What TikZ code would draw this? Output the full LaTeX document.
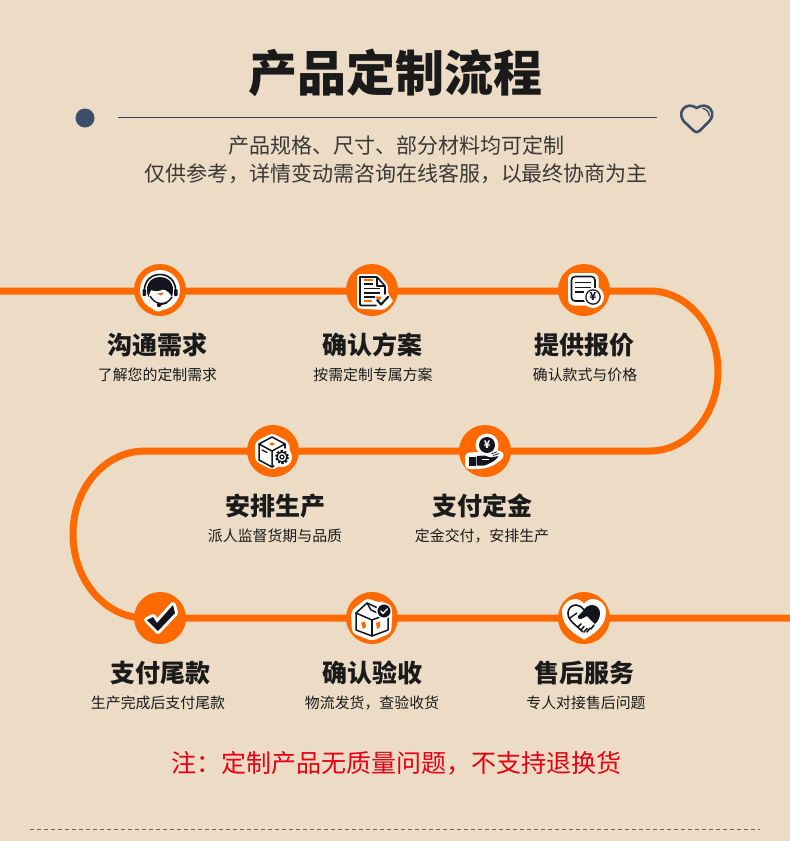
\documentclass[tikz,border=0pt]{standalone}
\usepackage{fontspec}
\setmainfont{Noto Sans CJK SC}
\definecolor{bgc}{HTML}{ECDCC6}
\definecolor{orng}{HTML}{FF6A00}
\definecolor{slate}{HTML}{3C4F6B}
\definecolor{ink}{HTML}{1A1A1A}
\definecolor{icon}{HTML}{14141E}
\definecolor{redn}{HTML}{E60012}
\newcommand{\fpx}[1]{\fontsize{#1pt}{#1pt}\selectfont}
\newcommand{\fwc}{^^^^ff0c}
\newcommand{\fwk}{^^^^ff1a}
\tikzset{
  x=1pt,y=-1pt,
  badge/.style={circle,fill=orng,minimum size=52pt,inner sep=0pt},
  head/.style={inner sep=0pt,text=ink,font=\fpx{25}\bfseries},
  subh/.style={inner sep=0pt,text=ink,font=\fpx{14.9}},
  intro/.style={inner sep=0pt,text=ink!85!bgc,font=\fpx{21}},
  road/.style={draw=orng,line width=7pt},
  ico/.style={draw=icon,line width=1.5pt,line join=round,line cap=round},
}
\begin{document}
\begin{tikzpicture}
\useasboundingbox (0,0) rectangle (790,841);
\fill[bgc] (0,0) rectangle (790,841);

% title
\node[inner sep=0pt,text=ink,font=\fpx{49}\bfseries] (title) at (395,73) {产品定制流程};
\node[circle,fill=slate,minimum size=19pt,inner sep=0pt] (dot) at (85,118) {};
\coordinate (ruleL) at (118,117.5);
\coordinate (ruleR) at (657,117.5);
\draw[draw=slate!85!black,line width=1pt] (ruleL) -- (ruleR);
% heart
\draw[slate,line width=2.6pt,line cap=round,line join=round] (696.7,108)
  .. controls (692,104.5) and (686,105) .. (683,109)
  .. controls (680,113) and (681,118) .. (684,121.5)
  -- (694,131) .. controls (696,132.6) and (697.4,132.6) .. (699.4,131)
  -- (709,121.5) .. controls (712.5,118) and (713.5,113) .. (710.5,109)
  .. controls (707.5,105) and (701.5,104.5) .. (696.7,108);
\draw[slate,line width=1.3pt,line cap=round] (703,108.5) .. controls (707,109.5) and (709,112) .. (709.3,116);

\node[intro] (sub1) at (396,146) {产品规格、尺寸、部分材料均可定制};
\node[intro] (sub2) at (396,174) {仅供参考\fwc 详情变动需咨询在线客服\fwc 以最终协商为主};

% positions
\coordinate (s1) at (160,290);
\coordinate (s2) at (372,290);
\coordinate (s3) at (584,290);
\coordinate (s4) at (485,451);
\coordinate (s5) at (273,451);
\coordinate (s6) at (160,618);
\coordinate (s7) at (372,618);
\coordinate (s8) at (584,618);
\coordinate (roadA) at (0,291);
\coordinate (roadB) at (790,618);

% road
\draw[road] (roadA) -- (650,291)
  .. controls (687.5,291) and (718,327) .. (718,371)
  .. controls (718,415) and (687.5,451) .. (650,451)
  -- (145,451)
  .. controls (105,451) and (73,488) .. (73,534)
  .. controls (73,580) and (105,618) .. (145,618)
  -- (roadB);

\foreach \n/\p in {n1/s1,n2/s2,n3/s3,n4/s4,n5/s5,n6/s6,n7/s7,n8/s8}
  \node[badge] (\n) at (\p) {};

% 1 headset
\begin{scope}[shift={(n1.center)}]
  \fill[white] (0,0) circle (20);
  \fill[white] (-2,15) circle (6.5);
  \fill[icon] (-13,0) .. controls (-13,-9) and (-7,-13) .. (0,-13)
     .. controls (7,-13) and (13,-9) .. (13,0)
     .. controls (13,3) and (12.5,5) .. (12,7)
     .. controls (10,3) and (7,0) .. (3,-0.5)
     .. controls (-1,1.5) and (-6,1.5) .. (-9,0)
     .. controls (-10,2) and (-11,5) .. (-11.5,7)
     .. controls (-12.5,5) and (-13,3) .. (-13,0) -- cycle;
  \draw[icon,line width=1.6pt] (-15.5,0) .. controls (-15.5,-10) and (-8,-15.5) .. (0,-15.5)
     .. controls (8,-15.5) and (15.5,-10) .. (15.5,0);
  \fill[icon,rounded corners=1pt] (-17.5,-1) rectangle (-14,6);
  \fill[icon,rounded corners=1pt] (14,-1) rectangle (17.5,6);
  \fill[orng] (-3,3.5) -- (4,2.5) -- (1,5.5) -- cycle;
  \draw[icon,line width=1.4pt] (-10,6) .. controls (-7,11) and (-3,13.5) .. (1,13.5)
     (1,13.5) .. controls (5,13.5) and (9,12) .. (12,7);
  \draw[icon,line width=1.3pt] (-1,15) -- (7,13);
  \fill[icon] (-1,15) circle (2.2);
\end{scope}

% 2 document
\begin{scope}[shift={(n2.center)}]
  \fill[white,rounded corners=3pt] (-15,-16) -- (6,-16) -- (16,-5) -- (16,4) -- (20,9) -- (21,12) -- (12,20) -- (-15,18.5) -- cycle;
  \draw[ico,line width=1.6pt,rounded corners=1pt] (-12,-13) -- (5,-13) -- (13,-4) -- (13,4);
  \draw[ico,line width=1.6pt,rounded corners=1pt] (4,15.5) -- (-12,15.5) -- (-12,-13);
  \draw[ico,line width=1.4pt] (5,-13) -- (5,-4) -- (13,-4);
  \fill[orng] (-8.5,-11) rectangle (1,-9.2);
  \fill[icon] (-8.5,-6.8) rectangle (1,-5);
  \fill[icon] (-8.5,-2.5) rectangle (8,-0.7);
  \fill[icon] (-8.5,1.8) rectangle (8,3.6);
  \fill[icon] (-8.5,6.1) rectangle (3,7.9);
  \fill[orng] (-8.5,10.4) rectangle (0,12.2);
  \fill[orng] (3,6.5) -- (10,6.5) -- (7,11) -- cycle;
  \draw[ico,line width=2pt] (5,10) -- (9,14.5) -- (16.5,6.5);
\end{scope}

% 3 bill
\begin{scope}[shift={(n3.center)}]
  \fill[white,rounded corners=6pt] (-16,-17) rectangle (14.5,15.5);
  \fill[white] (9,7) circle (11);
  \draw[ico,line width=1.6pt,rounded corners=3.5pt] (-12.5,-13.5) rectangle (11,11);
  \fill[icon] (-9,-8.2) rectangle (6.5,-6.6);
  \fill[icon] (-9,-3.4) rectangle (6.5,-1.8);
  \fill[icon] (-9,1.4) rectangle (0,3);
  \fill[white] (9,7) circle (9.5);
  \fill[icon] (9,7) circle (7.8);
  \fill[white] (9,7) circle (6.4);
  \node[inner sep=0pt,text=icon,font=\fpx{11}\bfseries] (yen3) at (9,7) {¥};
\end{scope}

% 4 coin and hand
\begin{scope}[shift={(n4.center)}]
  \fill[white] (2,-6) circle (11.5);
  \fill[white,rounded corners=4pt] (-20,2) -- (16,-1) -- (20,5) -- (10,14) -- (-2,18) -- (-20,18) -- cycle;
  \fill[icon] (2,-6) circle (8);
  \node[inner sep=0pt,text=white,font=\fpx{10.5}\bfseries] (yen4) at (2,-6) {¥};
  \fill[icon] (-16,5.5) -- (-9.5,5.5) -- (-9.5,14.5) -- (-16,14.5) -- cycle;
  \fill[icon,rounded corners=1pt] (-8.5,5) -- (0,4.5) -- (5,6.5) -- (14,5) -- (9,10) -- (0,14.5) -- (-8.5,14.5) -- cycle;
  \draw[white,line width=0.9pt] (-3,8) -- (4,8);
  \draw[icon,line width=0.7pt] (6,3) -- (12,1) (8,4.6) -- (14,2.6);
\end{scope}

% 5 box and gear
\begin{scope}[shift={(n5.center)}]
  \fill[white,rounded corners=4pt] (-1,-18) -- (16,-9) -- (17,0) -- (16,12) -- (4,16) -- (-1,19) -- (-18,10) -- (-18,-9) -- cycle;
  \fill[white] (9,6) circle (10);
  \draw[ico] (-1,-14) -- (12,-7) -- (-1,0) -- (-14,-7) -- cycle;
  \draw[ico] (-14,-7) -- (-14,9) -- (-1,16) -- (-1,0);
  \draw[ico] (12,-7) -- (12,-3);
  \draw[ico] (-1,16) -- (1,15);
  \draw[ico,line width=1.2pt] (-11,-1) -- (-6,1.5);
  \fill[orng] (-4,-7) -- (-1,-8.7) -- (2,-7) -- (-1,-5.3) -- cycle;
  \draw[icon,fill=white,line width=3pt,dash pattern=on 2pt off 1.5pt] (9,6) circle (5.6);
  \draw[icon,fill=white,line width=1.3pt] (9,6) circle (5);
  \draw[icon,line width=1.2pt] (9,6) circle (2);
\end{scope}

% 6 check
\begin{scope}[shift={(n6.center)}]
  \draw[draw=white,fill=icon,line width=6pt,line join=round] (-13,2) -- (-7,-1) -- (-3,5) -- (13,-13) -- (15,-5) -- (-2,13) -- cycle;
  \fill[icon] (-13,2) -- (-7,-1) -- (-3,5) -- (13,-13) -- (15,-5) -- (-2,13) -- cycle;
\end{scope}

% 7 open box
\begin{scope}[shift={(n7.center)}]
  \fill[white,rounded corners=4pt] (-21,-7) -- (-5,-20) -- (8,-15) -- (12,-17) -- (20,-8) -- (20,3) -- (19,15) -- (0,23) -- (-20,15) -- cycle;
  \draw[ico] (-16,-5) -- (0,2) -- (16,-4);
  \draw[ico] (-16,-5) -- (-16,12) -- (0,18) -- (16,12) -- (16,-2);
  \draw[ico] (0,2) -- (0,18);
  \draw[ico] (-16,-5) -- (-5,-15) -- (8,-9);
  \draw[ico] (-5,-15) -- (-1,-8) -- (8,-4);
  \fill[orng] (-11,5) -- (-7,3.5) -- (-6,9) -- (-9,11) -- cycle;
  \fill[orng] (4,5) -- (8,3.5) -- (8,9) -- (5,11) -- cycle;
  \fill[white] (12,-7) circle (8);
  \fill[icon] (12,-7) circle (6.5);
  \draw[white,line width=1.3pt,line cap=round,line join=round] (8.7,-7) -- (11,-4.6) -- (15.4,-9.2);
\end{scope}

% 8 heart and handshake
\begin{scope}[shift={(n8.center)}]
  \fill[white] (0,21.5)
     .. controls (-8,17) and (-22,9) .. (-22,-6)
     .. controls (-22,-14) and (-15,-19) .. (-9,-19)
     .. controls (-5,-19) and (-2,-17) .. (0,-14)
     .. controls (2,-17) and (5,-19) .. (9,-19)
     .. controls (15,-19) and (22,-14) .. (22,-6)
     .. controls (22,9) and (8,17) .. (0,21.5) -- cycle;
  \fill[icon] (-1,-7) .. controls (1,-11) and (5,-13) .. (8,-13)
     .. controls (13,-13) and (16,-9) .. (16,-5)
     .. controls (16,0) and (14,3) .. (11,6)
     -- (3,-2) -- (-3,1) .. controls (-5,2) and (-7,0) .. (-6,-2) -- cycle;
  \draw[icon,line width=1.6pt] (0,-8) .. controls (-2,-11) and (-5,-13) .. (-8,-13)
     .. controls (-13,-13) and (-16,-9) .. (-16,-5)
     .. controls (-16,-1) and (-14,2) .. (-12,4);
  \draw[icon,line width=1.6pt,line join=round] (-12,4) -- (-1,14);
  \draw[icon,line width=1.5pt,line cap=round] (-6,9) -- (-3,6) (-3,12) -- (0,8.5) (0,14) -- (3,10.5) (3,14) -- (6,10) (7,11) -- (10,7);
  \draw[icon,line width=1.4pt] (-14,0) -- (-7,-5);
\end{scope}

% labels
\node[head] (h1) at (157,345) {沟通需求};
\node[subh] (t1) at (157.5,375) {了解您的定制需求};
\node[head] (h2) at (372,345) {确认方案};
\node[subh] (t2) at (373,375) {按需定制专属方案};
\node[head] (h3) at (584,345) {提供报价};
\node[subh] (t3) at (585,375) {确认款式与价格};
\node[head] (h4) at (482,506) {支付定金};
\node[subh] (t4) at (482,536) {定金交付\fwc 安排生产};
\node[head] (h5) at (275,506) {安排生产};
\node[subh] (t5) at (275,536) {派人监督货期与品质};
\node[head] (h6) at (160,673) {支付尾款};
\node[subh] (t6) at (158,702.5) {生产完成后支付尾款};
\node[head] (h7) at (372,673) {确认验收};
\node[subh] (t7) at (372,702.5) {物流发货\fwc 查验收货};
\node[head] (h8) at (584,673) {售后服务};
\node[subh] (t8) at (586,702.5) {专人对接售后问题};

\node[inner sep=0pt,text=redn,font=\fpx{25}] (note) at (396,763) {注\fwk 定制产品无质量问题\fwc 不支持退换货};

\coordinate (dashL) at (30,829);
\coordinate (dashR) at (760,829);
\draw[draw=black!55!bgc,line width=1pt,dash pattern=on 4pt off 3pt] (dashL) -- (dashR);
\end{tikzpicture}
\end{document}
